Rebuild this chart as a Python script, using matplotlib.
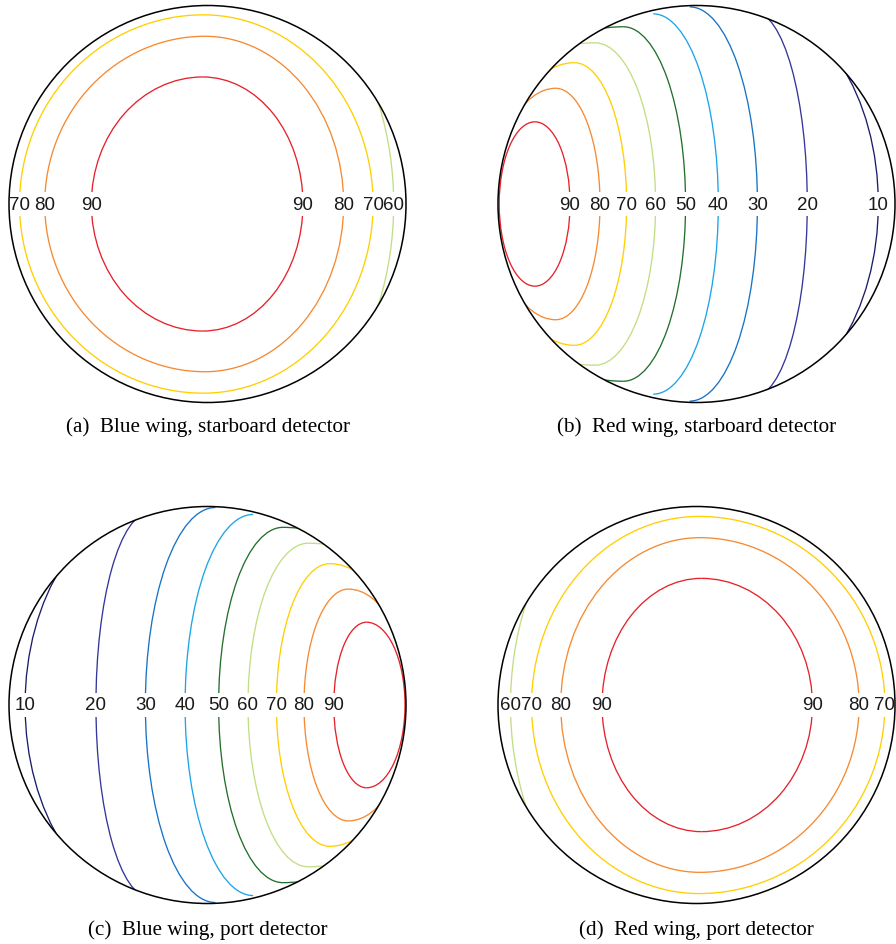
import numpy as np
import matplotlib
matplotlib.use("Agg")
import matplotlib.pyplot as plt
from matplotlib.patches import Arc, Circle

# ---------------------------------------------------------------------
# style
# ---------------------------------------------------------------------
FS_LABEL = 13.5
FS_CAPTION = 15.2
LABEL_FONT = "Liberation Sans"
CAPTION_FONT = "Liberation Serif"

LEVEL_COLORS = {
    10: "#1c1c6c",
    20: "#34359a",
    30: "#1673c6",
    40: "#1ca4e8",
    50: "#22702c",
    60: "#c3dd84",
    70: "#ffcf00",
    80: "#f68a32",
    90: "#e6222b",
}

# ---------------------------------------------------------------------
# data: each contour level as a closed curve in the unit disk,
# centre x, left / right half-width and half-height
# NaN = that half lies outside the detector disk
# ---------------------------------------------------------------------
nan = np.nan

# (a) Blue wing, starboard detector
A_LEVELS = [60, 70, 80, 90]
A_CX = [-0.030, -0.021, -0.013, -0.024]
A_LEFT = [1.000, 0.926, 0.807, 0.561]
A_RIGHT = [0.968, 0.855, 0.699, 0.505]
A_HALF_H = [1.30, 0.953, 0.845, 0.640]

# (b) Red wing, starboard detector
B_LEVELS = [10, 20, 30, 40, 50, 60, 70, 80, 90]
B_CX = [0.261, 0.288, -0.034, -0.218, -0.369, -0.511, -0.615, -0.709, -0.814]
B_LEFT = [nan, nan, nan, nan, 0.78, 0.78, 0.40, 0.31, 0.18]
B_RIGHT = [0.655, 0.270, 0.341, 0.328, 0.314, 0.305, 0.263, 0.223, 0.177]
B_HALF_H = [1.00, 0.97, 0.993, 0.958, 0.893, 0.812, 0.712, 0.583, 0.414]

# (c) Blue wing, port detector
C_LEVELS = [10, 20, 30, 40, 50, 60, 70, 80, 90]
C_CX = [-0.264, -0.290, 0.040, 0.230, 0.380, 0.507, 0.616, 0.709, 0.801]
C_LEFT = [0.655, 0.272, 0.353, 0.343, 0.324, 0.303, 0.269, 0.223, 0.165]
C_RIGHT = [nan, nan, nan, nan, 0.78, 0.78, 0.40, 0.31, 0.194]
C_HALF_H = [1.00, 0.97, 0.995, 0.960, 0.895, 0.815, 0.712, 0.584, 0.417]

# (d) Red wing, port detector
D_LEVELS = [60, 70, 80, 90]
D_CX = [0.030, 0.013, 0.017, 0.025]
D_LEFT = [0.967, 0.844, 0.701, 0.501]
D_RIGHT = [1.000, 0.936, 0.802, 0.559]
D_HALF_H = [1.30, 0.950, 0.843, 0.638]

CAPTIONS = [
    "(a)  Blue wing, starboard detector",
    "(b)  Red wing, starboard detector",
    "(c)  Blue wing, port detector",
    "(d)  Red wing, port detector",
]

# ---------------------------------------------------------------------
W, H = 896, 945
R_PX = 198.5


def _axes_at(fig, cx_px, cy_px):
    ax = fig.add_axes([(cx_px - R_PX) / W, (H - cy_px - R_PX) / H,
                       2 * R_PX / W, 2 * R_PX / H])
    ax.set_xlim(-1, 1)
    ax.set_ylim(-1, 1)
    ax.axis("off")
    return ax


def _draw_panel(ax, levels, cx, a_left, a_right, half_h):
    clip = Circle((0, 0), 1, transform=ax.transData)
    txt_kw = dict(ha="center", va="center", fontsize=FS_LABEL, family=LABEL_FONT)
    for lev, x0, al, ar, b in zip(levels, cx, a_left, a_right, half_h):
        col = LEVEL_COLORS[lev]
        for a, t1, t2, sign in [(al, 90, 270, -1), (ar, -90, 90, 1)]:
            if np.isnan(a):
                continue
            arc = Arc((x0, 0), 2 * a, 2 * b, theta1=t1, theta2=t2,
                      color=col, lw=0.95, zorder=2)
            ax.add_patch(arc)
            arc.set_clip_path(clip)
            xl = x0 + sign * a
            if abs(xl) < 0.97:
                # white gap behind the label (inline contour label look)
                ax.text(xl, 0, str(lev), color="none", zorder=3,
                        bbox=dict(boxstyle="square,pad=0.2", fc="white", ec="none"),
                        **txt_kw)
                ax.text(xl, 0, str(lev), color="#1a1a1a", zorder=4, **txt_kw)
    ax.add_patch(Circle((0, 0), 1, fill=False, ec="black", lw=1.1,
                        zorder=5, clip_on=False))


def main():
    fig = plt.figure(figsize=(W / 100, H / 100), dpi=100)

    panels = [
        ((207.5, 205), (A_LEVELS, A_CX, A_LEFT, A_RIGHT, A_HALF_H)),
        ((696.5, 205), (B_LEVELS, B_CX, B_LEFT, B_RIGHT, B_HALF_H)),
        ((207.5, 706), (C_LEVELS, C_CX, C_LEFT, C_RIGHT, C_HALF_H)),
        ((696.5, 706), (D_LEVELS, D_CX, D_LEFT, D_RIGHT, D_HALF_H)),
    ]
    cap_y = [427, 427, 930, 930]
    for ((cxp, cyp), data), cap, cy in zip(panels, CAPTIONS, cap_y):
        ax = _axes_at(fig, cxp, cyp)
        _draw_panel(ax, *data)
        fig.text(cxp / W, 1 - cy / H, cap, ha="center", va="center",
                 fontsize=FS_CAPTION, family=CAPTION_FONT)

    fig.savefig("out.png", dpi=100)
    plt.close(fig)


if __name__ == "__main__":
    main()
